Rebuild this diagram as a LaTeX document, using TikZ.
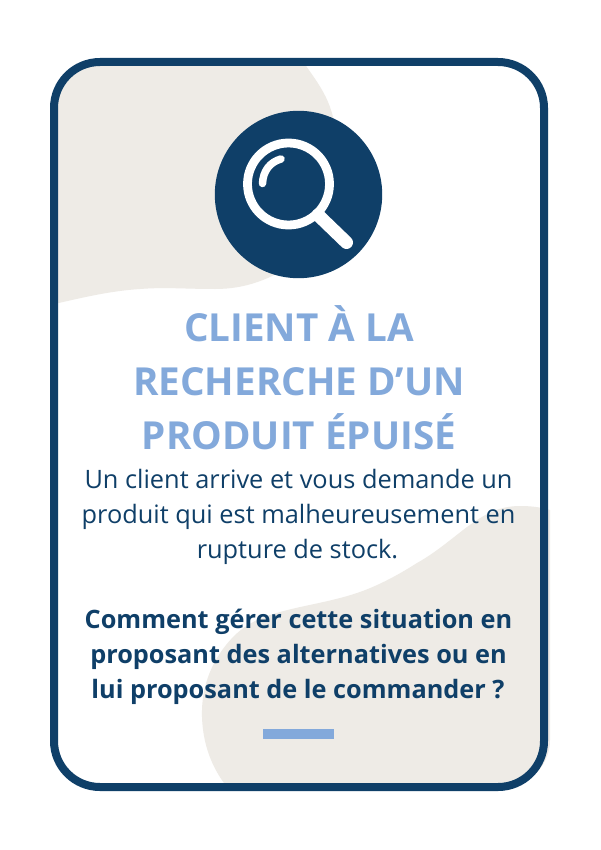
\documentclass[tikz,border=0pt]{standalone}
\usepackage{fontspec}
\setmainfont{Open Sans}
\definecolor{navy}{HTML}{0F3F68}
\definecolor{sand}{HTML}{EEEBE6}
\definecolor{sky}{HTML}{83A9DB}
\tikzset{
  frame/.style={draw=navy,line width=8pt,rounded corners=46pt},
  blob/.style={fill=sand,draw=none},
  titletext/.style={anchor=base,text=sky,font=\fontsize{38.6}{38.6}\selectfont\bfseries,inner sep=0pt},
  bodytext/.style={anchor=base,text=navy,font=\fontsize{25.35}{25.35}\selectfont,inner sep=0pt},
  asktext/.style={anchor=base,text=navy,font=\fontsize{25.3}{25.3}\selectfont\bfseries,inner sep=0pt}
}
\begin{document}
\begin{tikzpicture}[x=1pt,y=-1pt]
\useasboundingbox (0,0) rectangle (600,850);
\fill[white] (0,0) rectangle (600,850);
% top-left blob
\begin{scope}
\clip[rounded corners=46pt] (53.5,62) rectangle (544,787);
\fill[blob] (50,50) -- (296,50) .. controls (308,72) and (326,88) .. (333,117)
  -- (333,160) -- (300,260) .. controls (270,280) and (245,289) .. (215,289)
  .. controls (185,289) and (165,287) .. (140,289)
  .. controls (110,291) and (85,297) .. (50,305) -- cycle;
\end{scope}
% bottom-right blob
\fill[blob] (550,510) .. controls (540,507) and (530,506) .. (520,506)
  .. controls (495,506) and (480,518) .. (467,527)
  .. controls (450,540) and (435,553) .. (417,563)
  .. controls (395,577) and (375,587) .. (357,593)
  .. controls (330,602) and (305,605) .. (280,612)
  .. controls (258,618) and (245,625) .. (233,637)
  .. controls (213,658) and (201,685) .. (202,717)
  .. controls (203,745) and (212,768) .. (227,787)
  -- (500,787) .. controls (530,787) and (550,765) .. (550,740) -- cycle;
% frame
\draw[frame] (54,62) rectangle (544,787);
% icon
\fill[navy] (298.5,194.5) circle (83.7);
\draw[white,line width=8.8pt] (288.5,184) circle (41);
\draw[white,line width=7.5pt,line cap=round] (262.5,183.5) .. controls (263,171) and (270,162) .. (281,159);
\draw[white,line width=13pt,line cap=round] (318,215) -- (346.5,242.5);
% texts
\node[titletext] (t1) at (299,341) {CLIENT À LA};
\node[titletext] (t2) at (299,395) {RECHERCHE D’UN};
\node[titletext] (t3) at (299,449) {PRODUIT ÉPUISÉ};
\node[bodytext] (b1) at (298.5,488) {Un client arrive et vous demande un};
\node[bodytext] (b2) at (298.5,523) {produit qui est malheureusement en};
\node[bodytext] (b3) at (297.5,558) {rupture de stock.};
\node[asktext] (a1) at (298.5,628) {Comment gérer cette situation en};
\node[asktext] (a2) at (298.5,663) {proposant des alternatives ou en};
\node[asktext] (a3) at (298,698) {lui proposant de le commander ?};
\node[fill=sky,minimum width=71.5pt,minimum height=10pt,inner sep=0pt,draw=none] (bar) at (298.5,734) {};
\end{tikzpicture}
\end{document}
